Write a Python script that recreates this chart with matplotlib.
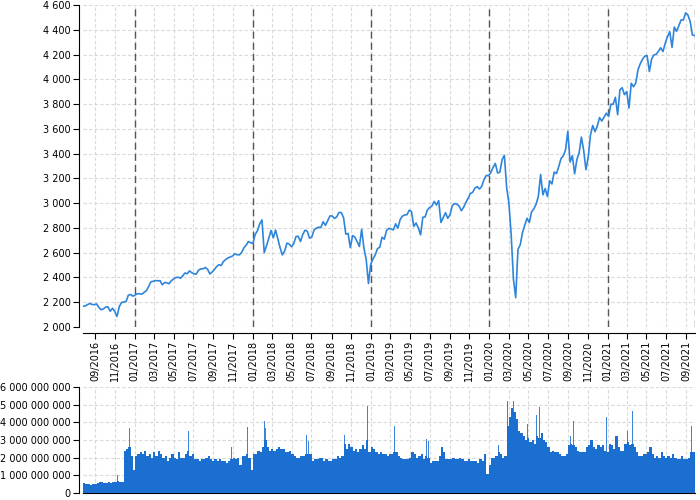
import matplotlib
matplotlib.use("Agg")
import numpy as np
import pandas as pd
import matplotlib.pyplot as plt
import matplotlib.dates as mdates
from matplotlib.ticker import FuncFormatter, MultipleLocator

# Weekly index levels (Mondays)
close_2016 = [2168, 2170, 2181, 2190, 2182, 2180, 2186, 2159, 2139, 2146, 2161, 2163,
              2127, 2151, 2126, 2085, 2164, 2198, 2202, 2205, 2256, 2263, 2249]
close_2017 = [2258, 2269, 2268, 2265, 2280, 2293, 2328, 2365, 2369, 2375, 2373, 2374,
              2341, 2359, 2357, 2349, 2374, 2388, 2399, 2402, 2394, 2412, 2436, 2430,
              2453, 2439, 2429, 2427, 2459, 2469, 2470, 2480, 2466, 2428, 2444, 2465,
              2488, 2503, 2497, 2529, 2545, 2558, 2565, 2573, 2591, 2584, 2582, 2601,
              2639, 2660, 2690, 2681]
close_2018 = [2674, 2748, 2777, 2833, 2865, 2600, 2656, 2716, 2780, 2720, 2783, 2712,
              2640, 2582, 2613, 2677, 2670, 2648, 2672, 2730, 2733, 2690, 2746, 2782,
              2773, 2717, 2726, 2784, 2798, 2806, 2803, 2850, 2821, 2857, 2897, 2896,
              2877, 2889, 2925, 2924, 2884, 2750, 2755, 2641, 2738, 2726, 2690, 2650,
              2790, 2637, 2546, 2351, 2507]
close_2019 = [2550, 2582, 2633, 2644, 2725, 2709, 2780, 2796, 2792, 2784, 2833, 2798,
              2868, 2895, 2905, 2907, 2943, 2932, 2812, 2840, 2802, 2744, 2886, 2889,
              2945, 2964, 2976, 3014, 2985, 3020, 2844, 2883, 2923, 2878, 2906, 2979,
              2997, 2992, 2977, 2939, 2967, 3006, 3039, 3078, 3087, 3122, 3133, 3114,
              3136, 3191, 3224, 3221]
close_2020 = [3246, 3288, 3321, 3244, 3249, 3352, 3386, 3128, 3000, 2746, 2386, 2237,
              2627, 2664, 2762, 2823, 2878, 2843, 2930, 2954, 2991, 3055, 3232, 3067,
              3118, 3053, 3180, 3155, 3251, 3239, 3295, 3360, 3381, 3431, 3580, 3332,
              3383, 3237, 3351, 3408, 3534, 3427, 3270, 3370, 3550, 3627, 3577, 3622,
              3691, 3663, 3694, 3727]
close_2021 = [3700, 3799, 3798, 3855, 3714, 3915, 3932, 3876, 3901, 3768, 3968, 3940,
              3971, 4078, 4127, 4163, 4187, 4192, 4063, 4163, 4197, 4202, 4226, 4255,
              4224, 4291, 4344, 4385, 4258, 4422, 4387, 4432, 4479, 4479, 4537, 4520,
              4468, 4358, 4353]

# Weekly traded volume, billions
vol_2016 = [0.55, 0.5, 0.5, 0.48, 0.52, 0.5, 0.55, 0.65, 0.6, 0.58, 0.55, 0.6,
            0.55, 0.6, 0.65, 0.7, 0.62, 0.6, 2.35, 2.5, 2.6, 2.1, 1.3]
vol_2017 = [2.1, 2.2, 2.3, 2.2, 2.4, 2.1, 2.2, 2.0, 2.3, 2.1, 2.4, 2.2,
            2.0, 2.1, 1.8, 2.0, 2.2, 2.0, 1.9, 2.3, 2.0, 2.0, 2.2, 2.4,
            2.1, 2.2, 1.9, 1.9, 1.8, 1.9, 1.9, 2.0, 2.1, 1.9, 1.8, 1.9,
            1.8, 1.9, 1.8, 1.8, 1.7, 1.8, 1.9, 2.0, 1.9, 2.0, 1.6, 2.1,
            2.1, 2.2, 2.0, 1.3]
vol_2018 = [2.2, 2.2, 2.4, 2.3, 2.6, 3.0, 2.6, 2.4, 2.5, 2.4, 2.5, 2.6,
            2.5, 2.5, 2.3, 2.3, 2.4, 2.2, 2.1, 2.0, 2.0, 2.1, 2.1, 2.2,
            2.2, 2.2, 1.8, 1.9, 1.9, 2.0, 2.0, 1.8, 1.9, 1.8, 1.8, 1.9,
            1.9, 2.1, 2.0, 2.1, 2.8, 2.5, 2.8, 2.6, 2.4, 2.5, 2.3, 2.5,
            2.7, 2.5, 3.0, 2.3, 2.6]
vol_2019 = [2.5, 2.3, 2.2, 2.3, 2.2, 2.2, 2.1, 2.2, 2.2, 2.3, 2.3, 2.1,
            2.0, 1.9, 1.9, 1.9, 2.0, 2.3, 2.2, 2.0, 2.1, 2.2, 1.9, 2.1,
            2.0, 1.7, 1.8, 1.8, 1.8, 2.1, 2.6, 2.3, 1.9, 1.9, 1.9, 2.0,
            1.9, 1.9, 2.0, 1.9, 1.8, 1.8, 1.9, 1.8, 1.8, 1.8, 1.7, 1.9,
            1.8, 2.2, 1.1, 1.6]
vol_2020 = [2.0, 2.0, 2.1, 2.3, 2.2, 2.0, 2.1, 3.8, 4.3, 4.8, 4.6, 4.2,
            3.5, 3.4, 3.2, 3.0, 3.1, 2.9, 3.0, 2.8, 3.2, 3.1, 3.4, 3.0,
            2.9, 2.6, 2.3, 2.4, 2.3, 2.3, 2.2, 2.1, 2.1, 2.2, 2.7, 2.8,
            2.7, 2.6, 2.4, 2.3, 2.3, 2.3, 2.6, 2.7, 3.0, 2.6, 2.5, 2.7,
            2.6, 2.7, 2.4, 2.3]
vol_2021 = [2.8, 2.7, 2.5, 3.2, 2.6, 2.4, 2.4, 2.8, 2.9, 2.7, 2.8, 2.6,
            2.3, 2.1, 2.1, 2.2, 2.2, 2.3, 2.6, 2.2, 2.0, 2.1, 2.0, 2.3,
            2.1, 2.0, 2.1, 2.0, 2.2, 2.0, 1.9, 1.9, 2.1, 1.9, 1.9, 2.0,
            2.3, 2.3, 2.2]

# single heavy-volume days, billions
spike_dates = ["2016-09-16", "2016-11-09", "2016-12-16", "2017-03-17", "2017-05-17",
               "2017-06-09", "2017-06-16", "2017-06-29", "2017-07-21", "2017-09-15",
               "2017-10-27", "2017-12-15", "2018-02-06", "2018-02-09", "2018-03-16",
               "2018-06-15", "2018-06-22", "2018-09-21", "2018-10-11", "2018-12-07",
               "2018-12-21", "2019-01-29", "2019-03-15", "2019-06-21", "2019-06-28",
               "2019-08-05", "2019-09-20", "2019-12-20", "2020-01-30", "2020-02-27",
               "2020-03-09", "2020-03-12", "2020-03-16", "2020-03-20", "2020-04-28",
               "2020-05-26", "2020-06-05", "2020-06-19", "2020-07-31", "2020-09-08",
               "2020-09-18", "2020-12-03", "2020-12-18", "2020-12-29", "2021-01-27",
               "2021-03-04", "2021-03-19", "2021-05-28", "2021-06-18", "2021-07-19",
               "2021-09-17"]
spike_vols = [1.45, 1.0, 3.7, 3.4, 2.7, 2.7, 3.5, 2.9, 2.65, 3.05,
              2.6, 3.75, 4.05, 3.7, 3.45, 3.3, 2.95, 3.9, 3.3, 3.2,
              4.95, 3.4, 3.8, 3.05, 2.95, 2.7, 3.3, 3.7, 2.7, 5.2,
              5.0, 5.3, 5.2, 5.0, 3.9, 4.4, 4.85, 5.0, 3.0, 3.25,
              4.1, 3.65, 5.1, 4.3, 3.8, 3.5, 4.66, 3.45, 3.65, 2.9,
              3.8]

year_starts = ["2016-07-25", "2017-01-02", "2018-01-01", "2019-01-07", "2020-01-06", "2021-01-04"]
closes = [close_2016, close_2017, close_2018, close_2019, close_2020, close_2021]
vols = [vol_2016, vol_2017, vol_2018, vol_2019, vol_2020, vol_2021]

dates = []
for start, c in zip(year_starts, closes):
    dates.extend(pd.date_range(start, periods=len(c), freq="7D"))
dates = pd.DatetimeIndex(dates)
close = np.concatenate(closes)
volume = np.concatenate(vols) * 1e9
spikes = pd.to_datetime(spike_dates)
spike_v = np.array(spike_vols) * 1e9

x_start = pd.Timestamp("2016-07-25")
x_end = pd.Timestamp("2021-09-28")
line_color = "#2e85db"
bar_color = "#1b6fd1"
grid_kw = dict(color="#d9d9d9", linestyle=(0, (3, 2)), linewidth=0.8)

fig = plt.figure(figsize=(7, 5), dpi=100)
ax = fig.add_axes([83 / 700, 1 - 327 / 500, 612 / 700, 322 / 500])
axv = fig.add_axes([83 / 700, 7 / 500, 612 / 700, 106 / 500])

# price line
ax.plot(dates, close, color=line_color, linewidth=1.2, zorder=3)
ax.set_ylim(2000, 4600)
ax.set_xlim(x_start, x_end)
ax.yaxis.set_major_locator(MultipleLocator(200))

for yr in range(2017, 2022):
    ax.axvline(pd.Timestamp(f"{yr}-01-01"), color="#555555", linestyle=(0, (5, 3)), linewidth=1, zorder=2)
ax.axvline(x_end, color="#555555", linestyle=(0, (5, 3)), linewidth=1, zorder=2)

# volume bars
axv.bar(dates, volume, width=7, align="edge", color=bar_color, linewidth=0, zorder=3)
axv.bar(spikes, spike_v, width=1.2, color=bar_color, alpha=0.85, linewidth=0, zorder=3)
axv.set_ylim(0, 6e9)
axv.set_xlim(x_start, x_end)
axv.yaxis.set_major_locator(MultipleLocator(1e9))

fmt = FuncFormatter(lambda v, p: f"{v:,.0f}".replace(",", " "))
for a in (ax, axv):
    a.xaxis.set_major_locator(mdates.MonthLocator(bymonth=[1, 3, 5, 7, 9, 11]))
    a.yaxis.set_major_formatter(fmt)
    a.grid(True, **grid_kw)
    a.set_axisbelow(True)
    for s in ("top", "right"):
        a.spines[s].set_visible(False)
    a.spines["left"].set_position(("outward", 3))
    a.tick_params(labelsize=7, length=4, width=0.8, pad=2, colors="black")

ax.spines["bottom"].set_position(("outward", 4))
ax.xaxis.set_major_formatter(mdates.DateFormatter("%m/%Y"))
plt.setp(ax.get_xticklabels(), rotation=90)
axv.tick_params(axis="x", labelbottom=False, length=0)

fig.savefig("out.png", dpi=100)
